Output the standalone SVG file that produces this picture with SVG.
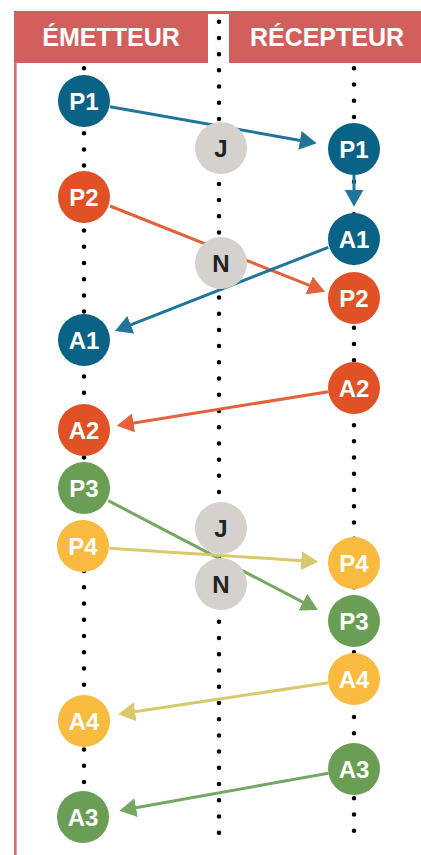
<svg xmlns="http://www.w3.org/2000/svg" width="421" height="855" viewBox="0 0 421 855">
<style>
.hdr{font-family:"Liberation Sans",Arial,sans-serif;font-weight:bold;font-size:25px;fill:#fff;text-anchor:middle}
.lbl{font-family:"Liberation Sans",Arial,sans-serif;font-weight:bold;font-size:24px;fill:#fff;text-anchor:middle}
.dk{fill:#222}
.dots{stroke:#000;stroke-width:4.5;stroke-linecap:round;stroke-dasharray:0 16.22;fill:none}
.a{fill:none;stroke-width:3}
.blue{fill:#0a6386}.orange{fill:#e05126}.green{fill:#6a9e55}.yellow{fill:#f8bb3f}.gray{fill:#d5d2cd}
</style>
<defs>
<marker id="mb" markerUnits="userSpaceOnUse" markerWidth="18" markerHeight="19" refX="9" refY="9.5" orient="auto"><path d="M0,0 L17,9.5 L0,19 z" fill="#20769a"/></marker>
<marker id="mo" markerUnits="userSpaceOnUse" markerWidth="18" markerHeight="19" refX="9" refY="9.5" orient="auto"><path d="M0,0 L17,9.5 L0,19 z" fill="#e3613b"/></marker>
<marker id="mg" markerUnits="userSpaceOnUse" markerWidth="18" markerHeight="19" refX="9" refY="9.5" orient="auto"><path d="M0,0 L17,9.5 L0,19 z" fill="#74a862"/></marker>
<marker id="my" markerUnits="userSpaceOnUse" markerWidth="18" markerHeight="19" refX="9" refY="9.5" orient="auto"><path d="M0,0 L17,9.5 L0,19 z" fill="#d9c96b"/></marker>
</defs>
<rect width="421" height="855" fill="#fff"/>
<g id="header">
<rect x="14" y="11" width="407" height="52" fill="#d25f5c"/>
<rect x="208" y="14" width="21" height="49" fill="#fff"/>
<rect x="14" y="63" width="2.6" height="792" fill="#dd6b6b"/>
<text class="hdr" x="111" y="45.5">ÉMETTEUR</text>
<text class="hdr" x="327" y="45.5">RÉCEPTEUR</text>
</g>
<g id="lifelines">
<line class="dots" x1="219" y1="21.7" x2="219" y2="834"/>
<line class="dots" x1="84" y1="68.3" x2="84" y2="783"/>
<line class="dots" x1="354" y1="68.3" x2="354" y2="835"/>
</g>
<g id="connectors">
<line class="a" stroke="#20769a" x1="110" y1="106.7" x2="308.8" y2="141.9" marker-end="url(#mb)"/>
<line class="a" stroke="#20769a" x1="354" y1="175" x2="354" y2="198.7" marker-end="url(#mb)"/>
<line class="a" stroke="#e3613b" x1="110" y1="206" x2="317.6" y2="288.7" marker-end="url(#mo)"/>
<line class="a" stroke="#20769a" x1="328.3" y1="247.3" x2="122.4" y2="328.1" marker-end="url(#mb)"/>
<line class="a" stroke="#e3613b" x1="328.3" y1="391.7" x2="124.6" y2="424.4" marker-end="url(#mo)"/>
<line class="a" stroke="#74a862" x1="108.3" y1="500.7" x2="310.9" y2="606.3" marker-end="url(#mg)"/>
<line class="a" stroke="#d9c96b" x1="109.3" y1="548.3" x2="310.3" y2="561.2" marker-end="url(#my)"/>
<line class="a" stroke="#d9c96b" x1="328.3" y1="682.7" x2="126.2" y2="713.1" marker-end="url(#my)"/>
<line class="a" stroke="#74a862" x1="328.3" y1="773.3" x2="127.2" y2="809.3" marker-end="url(#mg)"/>
</g>
<g id="s-P1"><circle class="blue" cx="84" cy="101" r="26"/><text class="lbl" x="84" y="109.5">P1</text></g>
<g id="s-P2"><circle class="orange" cx="84" cy="197" r="26"/><text class="lbl" x="84" y="205.5">P2</text></g>
<g id="s-A1"><circle class="blue" cx="84" cy="340" r="26"/><text class="lbl" x="84" y="348.5">A1</text></g>
<g id="s-A2"><circle class="orange" cx="84" cy="430" r="26"/><text class="lbl" x="84" y="438.5">A2</text></g>
<g id="s-P3"><circle class="green" cx="84" cy="488" r="26"/><text class="lbl" x="84" y="496.5">P3</text></g>
<g id="s-P4"><circle class="yellow" cx="83" cy="546" r="26"/><text class="lbl" x="83" y="554.5">P4</text></g>
<g id="s-A4"><circle class="yellow" cx="84" cy="721" r="26"/><text class="lbl" x="84" y="729.5">A4</text></g>
<g id="s-A3"><circle class="green" cx="83" cy="817" r="26"/><text class="lbl" x="83" y="825.5">A3</text></g>
<g id="m-J1"><circle class="gray" cx="221" cy="148" r="26"/><text class="lbl dk" x="221" y="156.5">J</text></g>
<g id="m-N1"><circle class="gray" cx="221" cy="263" r="26"/><text class="lbl dk" x="221" y="271.5">N</text></g>
<g id="m-J2"><circle class="gray" cx="221" cy="528" r="26"/><text class="lbl dk" x="221" y="536.5">J</text></g>
<g id="m-N2"><circle class="gray" cx="221" cy="584" r="26"/><text class="lbl dk" x="221" y="592.5">N</text></g>
<g id="r-P1"><circle class="blue" cx="354" cy="149" r="26"/><text class="lbl" x="354" y="157.5">P1</text></g>
<g id="r-A1"><circle class="blue" cx="354" cy="239" r="26"/><text class="lbl" x="354" y="247.5">A1</text></g>
<g id="r-P2"><circle class="orange" cx="354" cy="298" r="26"/><text class="lbl" x="354" y="306.5">P2</text></g>
<g id="r-A2"><circle class="orange" cx="354" cy="388" r="26"/><text class="lbl" x="354" y="396.5">A2</text></g>
<g id="r-P4"><circle class="yellow" cx="354" cy="563" r="26"/><text class="lbl" x="354" y="571.5">P4</text></g>
<g id="r-P3"><circle class="green" cx="354" cy="621" r="26"/><text class="lbl" x="354" y="629.5">P3</text></g>
<g id="r-A4"><circle class="yellow" cx="354" cy="679" r="26"/><text class="lbl" x="354" y="687.5">A4</text></g>
<g id="r-A3"><circle class="green" cx="354" cy="769" r="26"/><text class="lbl" x="354" y="777.5">A3</text></g>
</svg>
